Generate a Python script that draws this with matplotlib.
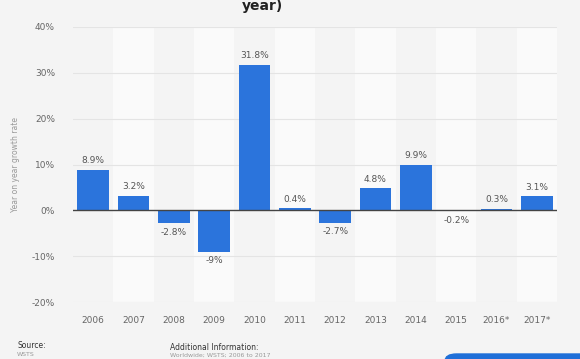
import numpy as np
import matplotlib.pyplot as plt
import matplotlib.patches as patches

years = ["2006", "2007", "2008", "2009", "2010", "2011", "2012", "2013", "2014", "2015", "2016*", "2017*"]
growth = [8.9, 3.2, -2.8, -9.0, 31.8, 0.4, -2.7, 4.8, 9.9, -0.2, 0.3, 3.1]
bar_labels = ["8.9%", "3.2%", "-2.8%", "-9%", "31.8%", "0.4%", "-2.7%", "4.8%", "9.9%", "-0.2%", "0.3%", "3.1%"]
yticks = [-20, -10, 0, 10, 20, 30, 40]

bg = '#f4f4f4'
blue = '#2b74dc'

fig = plt.figure(figsize=(5.8, 3.59), dpi=100, facecolor=bg)
ax = fig.add_axes([73/580, 1 - 302/359, (557-73)/580, (302-27)/359])
ax.set_facecolor(bg)

x = np.arange(len(years))
# alternating column bands
for i in x:
    if i % 2 == 1:
        ax.axvspan(i - 0.5, i + 0.5, color='#fafafa', zorder=0, lw=0)

for t in yticks:
    if t != 0:
        ax.axhline(t, color='#e4e4e4', lw=0.8, zorder=1)

ax.bar(x, growth, width=0.78, color=blue, zorder=3)
ax.axhline(0, color='#444444', lw=1.0, zorder=4)

for xi, v, lab in zip(x, growth, bar_labels):
    if v >= 0:
        ax.text(xi, v + 1.0, lab, ha='center', va='bottom', fontsize=6.5, color='#555555')
    else:
        ax.text(xi, v - 1.0, lab, ha='center', va='top', fontsize=6.5, color='#555555')

ax.set_xlim(-0.5, len(years) - 0.5)
ax.set_ylim(-20, 40)
ax.set_yticks(yticks)
ax.set_yticklabels([f"{t}%" for t in yticks], fontsize=6.5, color='#666666')
ax.set_xticks(x)
ax.set_xticklabels(years, fontsize=6.5, color='#666666')
ax.tick_params(axis='both', length=0, pad=10)
ax.tick_params(axis='y', pad=13)
for s in ax.spines.values():
    s.set_visible(False)
ax.set_ylabel("Year on year growth rate", fontsize=5.5, color='#999999', labelpad=8)

fig.text(262/580, 1 - 6/359, "year)", ha='center', va='center', fontsize=10, fontweight='bold', color='#222222')
fig.text(17/580, 1 - 346/359, "Source:", ha='left', va='center', fontsize=5.5, color='#333333')
fig.text(17/580, 1 - 354/359, "WSTS", ha='left', va='center', fontsize=4.5, color='#999999')
fig.text(170/580, 1 - 348/359, "Additional Information:", ha='left', va='center', fontsize=5.5, color='#333333')
fig.text(170/580, 1 - 355/359, "Worldwide; WSTS; 2006 to 2017", ha='left', va='center', fontsize=4.5, color='#999999')

btn = patches.FancyBboxPatch((445/580, -10/359), 150/580, 15/359, boxstyle='round,pad=0,rounding_size=0.02',
                             transform=fig.transFigure, color='#1f6fd8', zorder=5)
fig.patches.append(btn)

plt.savefig("out.png", dpi=100, facecolor=bg)
